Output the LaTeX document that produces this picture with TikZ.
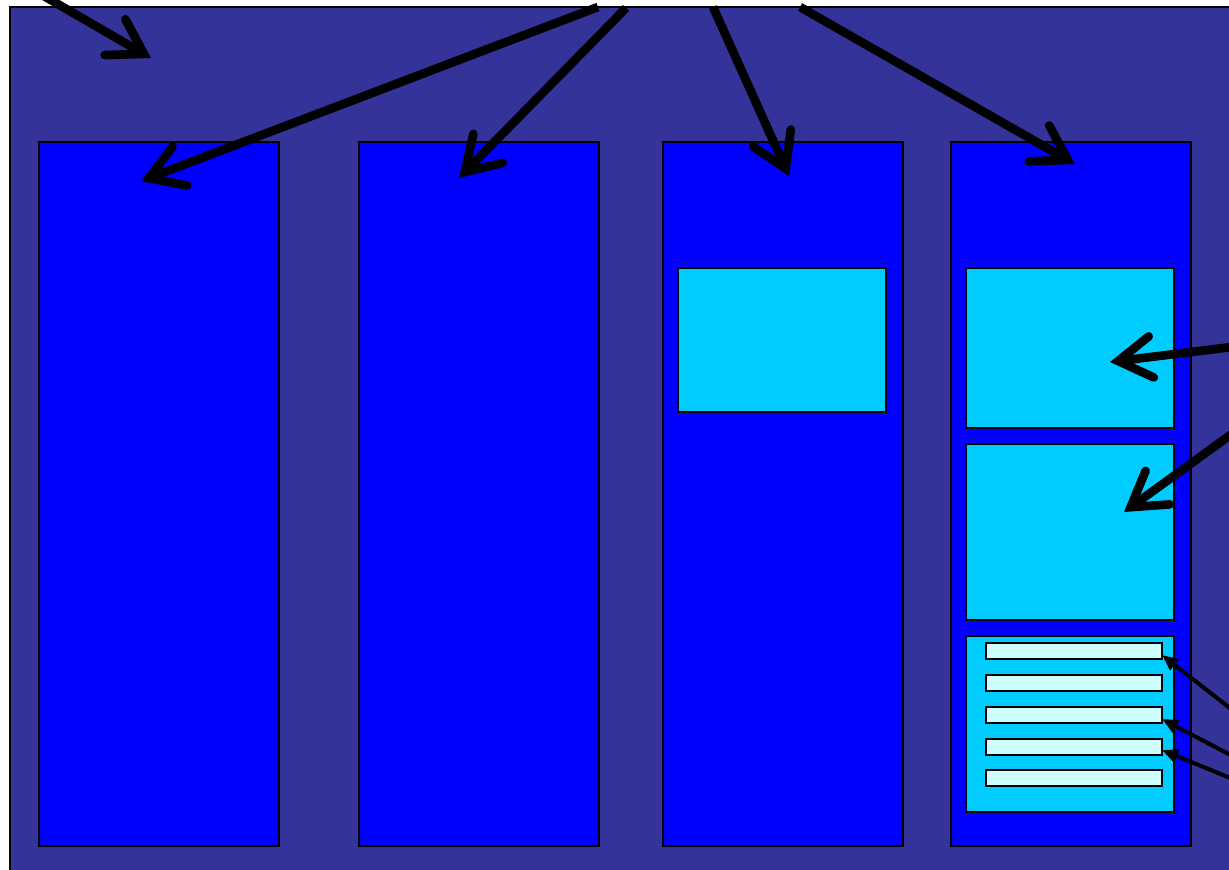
\documentclass[tikz,border=0pt]{standalone}
\usetikzlibrary{arrows.meta}
\definecolor{bgblue}{HTML}{333399}
\definecolor{colblue}{HTML}{0000FF}
\definecolor{cyanbox}{HTML}{00CCFF}
\definecolor{barcyan}{HTML}{CCFFFF}
\newcommand{\bx}[6]{\node[#6, anchor=north west, minimum width={(#4-#2)*0.75pt}, minimum height={(#5-#3)*0.75pt}] (#1) at (#2,#3) {};}
\begin{document}
\begin{tikzpicture}[x=0.75pt,y=-0.75pt,
  boxbase/.style={draw=black, inner sep=0pt, outer sep=0pt, line width=1.3pt},
  outerbox/.style={boxbase, fill=bgblue},
  colbox/.style={boxbase, fill=colblue},
  innerbox/.style={boxbase, fill=cyanbox},
  barbox/.style={boxbase, fill=barcyan},
  bigarrow/.style={line width=6.5pt, -{Straight Barb[length=25pt, width=31pt, line cap=round, line join=miter]}},
  thinarrow/.style={line width=3pt, -{Triangle[length=12pt, width=10pt]}}]
\useasboundingbox (0,0) rectangle (1229,870);
\clip (0,0) rectangle (1229,870);
\fill[white] (0,0) rectangle (1229,870);
\bx{outer}{10}{7}{1245}{885}{outerbox}
\bx{c1}{39}{142}{279}{846}{colbox}
\bx{c2}{359}{142}{599}{846}{colbox}
\bx{c3}{663}{142}{903}{846}{colbox}
\bx{c4}{951}{142}{1191}{846}{colbox}
\bx{c3a}{678}{268}{886}{412}{innerbox}
\bx{c4a}{966}{268}{1174}{428}{innerbox}
\bx{c4b}{966}{444}{1174}{620}{innerbox}
\bx{c4c}{966}{636}{1174}{812}{innerbox}
\bx{b1}{986}{643}{1162}{659}{barbox}
\bx{b2}{986}{675}{1162}{691}{barbox}
\bx{b3}{986}{707}{1162}{723}{barbox}
\bx{b4}{986}{739}{1162}{755}{barbox}
\bx{b5}{986}{770}{1162}{786}{barbox}
% arrow end points
\coordinate (s1) at (30,-12);   \coordinate (t1) at (151,58);
\coordinate (s2) at (598,7);    \coordinate (t2) at (141,181);
\coordinate (s3) at (626,8);    \coordinate (t3) at (459,178);
\coordinate (s4) at (713,7);    \coordinate (t4) at (789,176);
\coordinate (s5) at (800,7);    \coordinate (t5) at (1075,164);
\coordinate (s6) at (1240,346); \coordinate (t6) at (1110,362);
\coordinate (s7) at (1240,428); \coordinate (t7) at (1124,512);
\coordinate (s8) at (1240,716); \coordinate (t8) at (1162,655);
\coordinate (s9) at (1240,760); \coordinate (t9) at (1162,719);
\coordinate (s10) at (1240,782); \coordinate (t10) at (1162,750);
\draw[bigarrow] (s1) -- (t1);
\draw[bigarrow] (s2) -- (t2);
\draw[bigarrow] (s3) -- (t3);
\draw[bigarrow] (s4) -- (t4);
\draw[bigarrow] (s5) -- (t5);
\draw[bigarrow] (s6) -- (t6);
\draw[bigarrow] (s7) -- (t7);
\draw[thinarrow] (s8) -- (t8);
\draw[thinarrow] (s9) -- (t9);
\draw[thinarrow] (s10) -- (t10);
\end{tikzpicture}
\end{document}
